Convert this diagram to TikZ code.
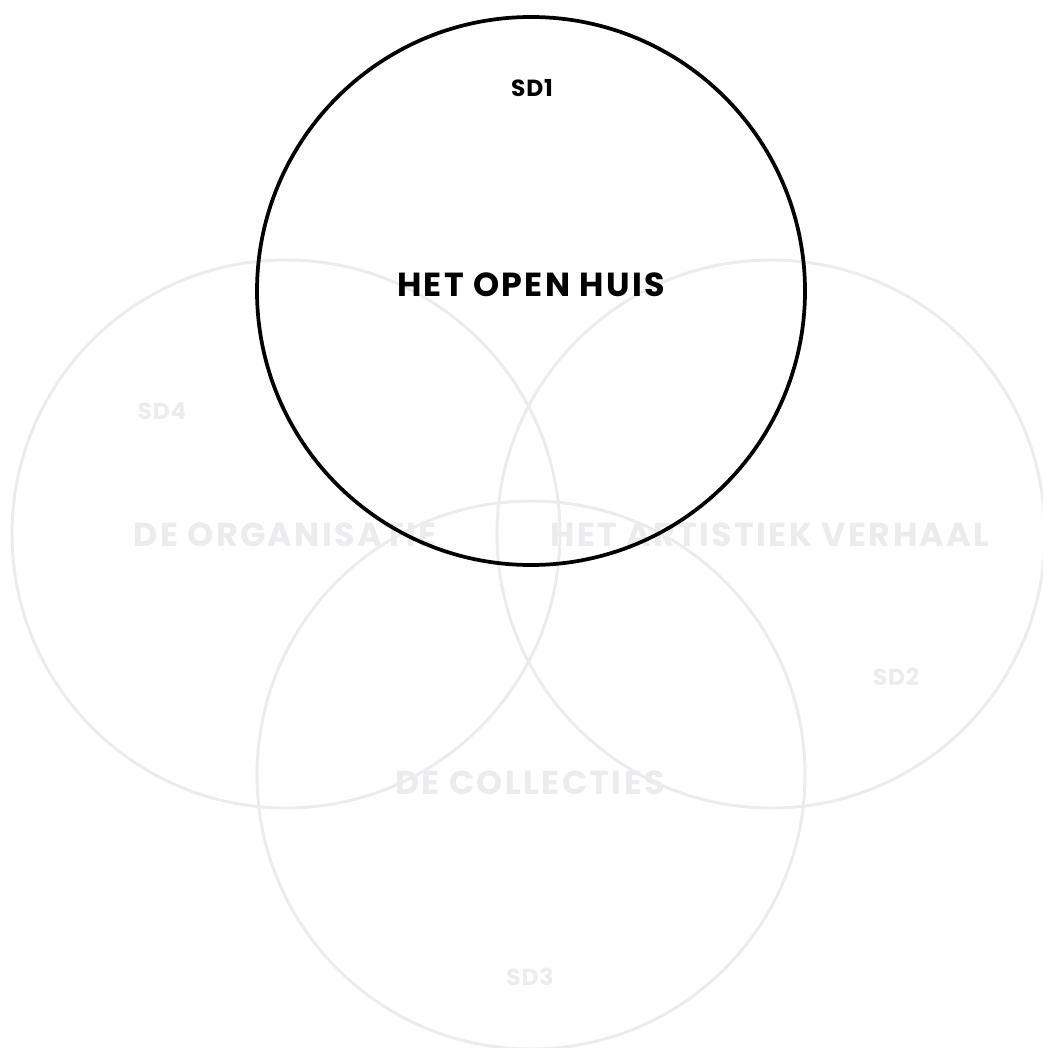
\documentclass[tikz,border=0pt]{standalone}
\usepackage{fontspec}
\setmainfont{Poppins}
\usetikzlibrary{positioning}
\definecolor{venngray}{RGB}{236,236,239}
\definecolor{vennblack}{RGB}{0,0,0}

\begin{document}
\begin{tikzpicture}[
  x=0.75pt, y=-0.75pt,
  ring/.style={circle, draw=venngray, line width=2.2pt, inner sep=0pt, minimum size=411pt},
  focus/.style={ring, draw=vennblack, line width=2.8pt},
  title/.style={font=\fontsize{25}{25}\selectfont\bfseries\addfontfeatures{LetterSpace=7}, inner sep=0pt},
  tag/.style={font=\fontsize{17.5}{17.5}\selectfont\bfseries\addfontfeatures{LetterSpace=4}, inner sep=0pt},
  every node/.style={text=venngray}
]
  \useasboundingbox (0,0) rectangle (1042,1048);

  % Background circles
  \node[ring] (org)  at (286,534) {};
  \node[ring] (art)  at (771,534) {};
  \node[ring] (coll) at (531,775) {};

  % Background labels
  \node[title] (orgtxt)  at (285,535) {DE ORGANISATIE};
  \node[title] (arttxt)  at (770,535) {HET ARTISTIEK VERHAAL};
  \node[title] (colltxt) at (530,783) {DE COLLECTIES};
  \node[tag]   (sd4) at (162,411) {SD4};
  \node[tag]   (sd2) at (896,677) {SD2};
  \node[tag]   (sd3) at (530,977) {SD3};

  % Highlighted circle
  \node[focus] (huis) at (531,291) {};
  \node[title, text=vennblack] (huistxt) at (531,285) {HET OPEN HUIS};
  \node[tag, text=vennblack]   (sd1) at (532,88) {SD1};

\end{tikzpicture}
\end{document}
